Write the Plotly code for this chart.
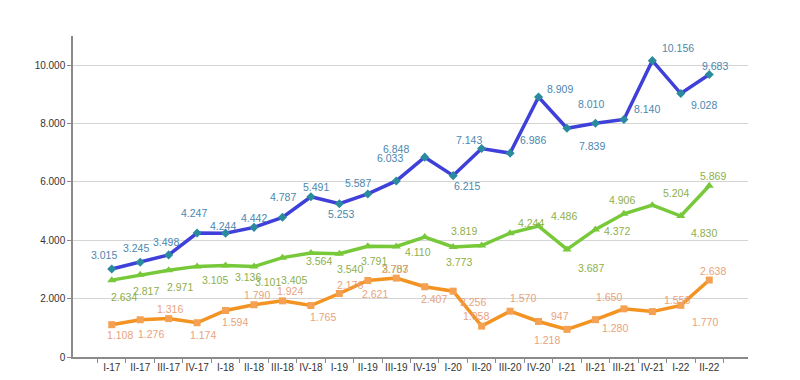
import plotly.graph_objects as go

categories = ["I-17", "II-17", "III-17", "IV-17", "I-18", "II-18", "III-18", "IV-18",
              "I-19", "II-19", "III-19", "IV-19", "I-20", "II-20", "III-20", "IV-20",
              "I-21", "II-21", "III-21", "IV-21", "I-22", "II-22"]

blue_values = [3015, 3245, 3498, 4247, 4244, 4442, 4787, 5491, 5253, 5587, 6033,
               6848, 6215, 7143, 6986, 8909, 7839, 8010, 8140, 10156, 9028, 9683]
green_values = [2634, 2817, 2971, 3105, 3136, 3101, 3405, 3564, 3540, 3791, 3787,
                4110, 3773, 3819, 4244, 4486, 3687, 4372, 4906, 5204, 4830, 5869]
orange_values = [1108, 1276, 1316, 1174, 1594, 1790, 1924, 1765, 2176, 2621, 2703,
                 2407, 2256, 1058, 1570, 1218, 947, 1280, 1650, 1556, 1770, 2638]

y_ticks = [0, 2000, 4000, 6000, 8000, 10000]

# label offsets in pixels (dx right, dy down) -- styling only
blue_off = [(-8, -14), (-4, -14), (-3, -13), (-3, -20), (-3, -7), (0, -9), (1, -20),
            (5, -10), (2, 10), (-10, -11), (-6, -23), (-29, -8), (14, 10), (-13, -9),
            (23, -13), (21, -8), (25, 18), (-4, -19), (23, -10), (26, -13), (23, 11), (6, -8)]
green_off = [(12, 17), (6, 16), (11, 17), (18, 14), (22, 12), (14, 15), (12, 22), (8, 8),
             (11, 15), (6, 15), (-1, 23), (-7, 15), (6, 15), (-18, -15), (21, -10),
             (25, -10), (24, 19), (22, 2), (-2, -14), (24, -12), (23, 17), (4, -10)]
orange_off = [(8, 10), (11, 14), (1, -10), (6, 12), (9, 12), (3, -10), (8, -10), (12, 12),
              (11, -9), (7, 13), (-1, -9), (9, 12), (20, 11), (-6, -10), (13, -13), (8, 19),
              (-7, -13), (20, 8), (-15, -12), (25, -12), (24, 17), (4, -9)]


def fmt(v):
    return f"{v:,}".replace(",", ".")


series = [
    dict(vals=blue_values, line="#3F40D9", marker="#2A8A9E", symbol="diamond", size=7,
         text="#4C87AE", off=blue_off),
    dict(vals=green_values, line="#78C93A", marker="#78C93A", symbol="triangle-up", size=8,
         text="#8DAF4C", off=green_off),
    dict(vals=orange_values, line="#F29322", marker="#F5A153", symbol="square", size=7,
         text="#E9A27E", off=orange_off),
]

fig = go.Figure()
annotations = []
for s in series:
    fig.add_trace(go.Scatter(
        x=categories, y=s["vals"], mode="lines+markers",
        line=dict(color=s["line"], width=3.5),
        marker=dict(symbol=s["symbol"], size=s["size"], color=s["marker"]),
        showlegend=False, hoverinfo="x+y"))
    for c, v, (dx, dy) in zip(categories, s["vals"], s["off"]):
        annotations.append(dict(
            x=c, y=v, xref="x", yref="y", text=fmt(v), showarrow=False,
            xshift=dx, yshift=-dy,
            font=dict(family="Liberation Sans, Arial, sans-serif", size=10.5, color=s["text"])))

# page body has an 8px default margin, so the figure is sized to compensate
fig.update_layout(
    width=792, height=372,
    margin=dict(l=65, r=52, t=28, b=23),
    paper_bgcolor="white", plot_bgcolor="white",
    separators=",.",
    annotations=annotations,
    font=dict(family="Liberation Sans, Arial, sans-serif", size=10, color="#333333"),
    xaxis=dict(
        type="category", showline=True, linecolor="#8a8a8a", linewidth=1.5,
        ticks="outside", ticklen=4, tickcolor="#8a8a8a", tickson="boundaries",
        showgrid=False, tickangle=0, automargin=False,
        tickfont=dict(size=10, color="#333333"),
    ),
    yaxis=dict(
        range=[0, 11000], tickvals=y_ticks, ticktext=[fmt(t) for t in y_ticks],
        showline=True, linecolor="#8a8a8a", linewidth=1.5,
        ticks="outside", ticklen=4, tickcolor="#8a8a8a", automargin=False,
        showgrid=True, gridcolor="#d4d4d4", gridwidth=1, zeroline=False,
        tickfont=dict(size=10, color="#333333"),
    ),
)

fig.write_html("out.html")
